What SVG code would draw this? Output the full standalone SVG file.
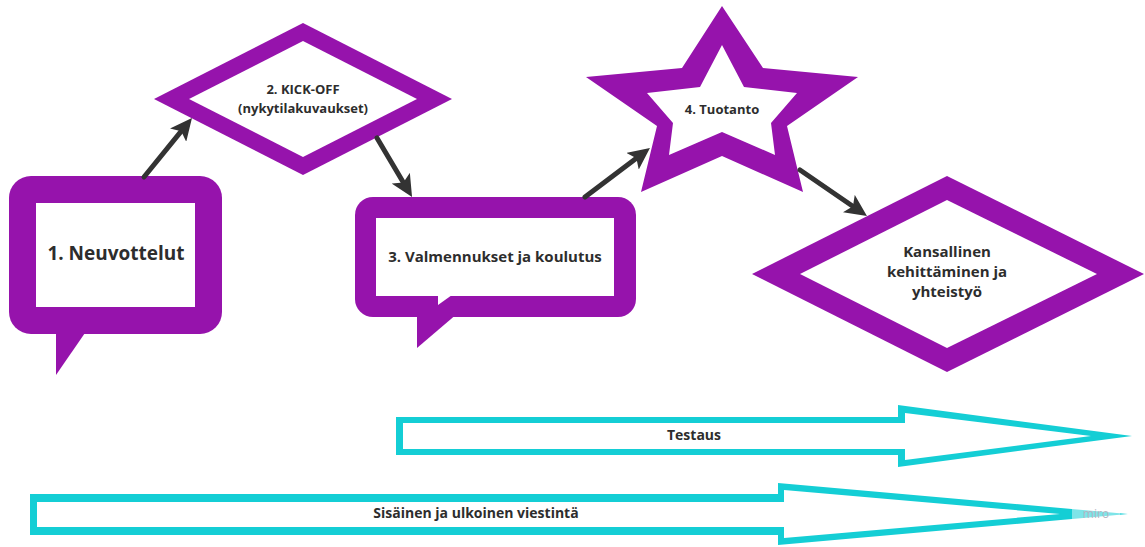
<svg xmlns="http://www.w3.org/2000/svg" width="1145" height="547" viewBox="0 0 1145 547">
<style>
.p{fill:#9613AC}
.w{fill:#ffffff}
.c{fill:#14CED5}
.t{font-family:"Open Sans","Liberation Sans",sans-serif;font-weight:700;fill:#2d2d2d;text-anchor:middle}
.e{stroke:#333333;stroke-width:5;fill:none;stroke-linecap:round}
</style>
<defs>
<marker id="ah" viewBox="0 0 22 21" refX="7" refY="10.5" markerWidth="22" markerHeight="21" markerUnits="userSpaceOnUse" orient="auto">
<path d="M0,0 L22,10.5 L0,21 L5,10.5 z" fill="#333333"/>
</marker>
</defs>
<rect width="1145" height="547" fill="#ffffff"/>

<g id="node1">
<rect class="p" x="9" y="176" width="213" height="158" rx="22"/>
<polygon class="p" points="56,330 87,330 56,375"/>
<rect class="w" x="36" y="203" width="159" height="104"/>
<text class="t" x="116" y="260" font-size="19">1. Neuvottelut</text>
</g>

<g id="node2">
<polygon class="p" points="303,23 452,99 303,175 154,99"/>
<polygon class="w" points="303,41 417,99 303,157 189,99"/>
<text class="t" x="303" y="94" font-size="13">2. KICK-OFF</text>
<text class="t" x="303" y="113" font-size="13">(nykytilakuvaukset)</text>
</g>

<g id="node3">
<rect class="p" x="355" y="197" width="281" height="120" rx="18"/>
<polygon class="p" points="417,313 458,313 417,348"/>
<rect class="w" x="376" y="218" width="238" height="78"/>
<polygon class="w" points="438,295 452,295 438,305"/>
<text class="t" x="495" y="262" font-size="15">3. Valmennukset ja koulutus</text>
</g>

<g id="node4">
<polygon class="p" points="722,6 763,68 858,77 787,126 803,192 722,156 641,192 657,126 586,77 682,68"/>
<polygon class="w" points="722,45 744,87 797,93 771,123 775,155 722,132 669,155 673,123 647,93 700,87"/>
<text class="t" x="722" y="114" font-size="13">4. Tuotanto</text>
</g>

<g id="node5">
<polygon class="p" points="947,176 1144,274 947,372 752,274"/>
<polygon class="w" points="947,200 1097,274 947,348 800,274"/>
<text class="t" x="947" y="257" font-size="15">Kansallinen</text>
<text class="t" x="947" y="277" font-size="15">kehittäminen ja</text>
<text class="t" x="947" y="297" font-size="15">yhteistyö</text>
</g>

<g id="testaus">
<polygon class="c" points="396,417 898,417 898,405 1132,436 898,467 898,455 396,455"/>
<polygon class="w" points="403,423 905,423 905,413 1091,436 905,460 905,449 403,449"/>
<text class="t" x="694" y="440" font-size="14">Testaus</text>
</g>

<g id="viestinta">
<polygon class="c" points="30,494 778,494 778,483 1128,514 778,545 778,535 30,535"/>
<polygon class="w" points="37,502 784,502 784,490 1060,514 784,538 784,527 37,527"/>
<text class="t" x="476" y="518" font-size="14">Sisäinen ja ulkoinen viestintä</text>
<rect x="1072" y="505" width="48" height="18" fill="#ffffff" fill-opacity="0.45"/>
<text x="1096" y="518" font-family="Open Sans, Liberation Sans, sans-serif" font-size="12" fill="#b4b4c2" text-anchor="middle">miro</text>
</g>

<g id="connectors">
<line class="e" x1="144" y1="177" x2="182.5" y2="129.7" marker-end="url(#ah)"/>
<line class="e" x1="377" y1="138" x2="404.4" y2="184.2" marker-end="url(#ah)"/>
<line class="e" x1="585" y1="197" x2="638" y2="157" marker-end="url(#ah)"/>
<line class="e" x1="800" y1="170" x2="854.6" y2="207.5" marker-end="url(#ah)"/>
</g>
</svg>
